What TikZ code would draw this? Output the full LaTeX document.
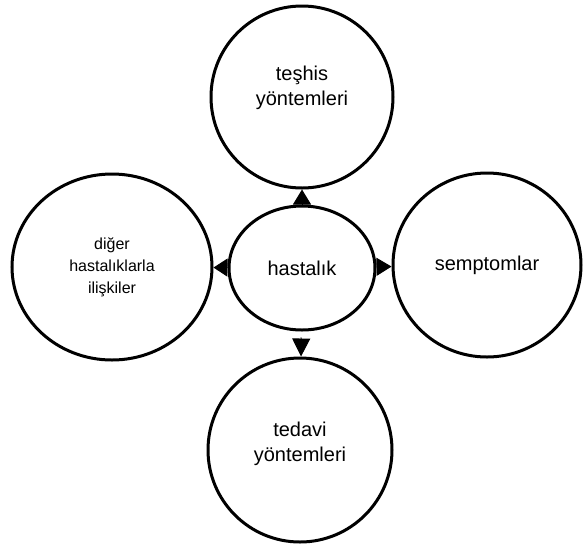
\documentclass[tikz,border=0pt]{standalone}
\usepackage{fontspec}
\setmainfont{Liberation Sans}
\usetikzlibrary{shapes.geometric,arrows.meta}
\tikzset{
  bubble/.style={ellipse, draw, line width=3pt, inner sep=0pt, align=center,
    font=\fontsize{20}{25}\selectfont},
  conn/.style={line width=1pt, -{Triangle[length=#1,width=18pt]}},
}
\begin{document}
\begin{tikzpicture}[x=1pt,y=-1pt]
\useasboundingbox (0,0) rectangle (584,550);
\node[bubble, minimum width=146pt, minimum height=124pt] (c) at (302,268) {hastalık};
\node[bubble, minimum width=182pt, minimum height=182pt] (top) at (302,97) {teşhis\\yöntemleri\\[-2pt]};
\node[bubble, minimum width=184pt, minimum height=184pt] (bot) at (300,450) {tedavi\\yöntemleri\\[-9pt]};
\node[bubble, minimum width=200pt, minimum height=186pt, font=\fontsize{16}{22}\selectfont] (left) at (112,267) {diğer\\hastalıklarla\\ilişkiler};
\node[bubble, minimum width=188pt, minimum height=184pt] (right) at (487,265) {semptomlar};
\draw[conn=15pt] (c) -- (top);
\draw[conn=18pt, shorten <=6pt] (c) -- (bot);
\draw[conn=14pt] (c) -- (left);
\draw[conn=15pt] (c) -- (right);
\end{tikzpicture}
\end{document}
